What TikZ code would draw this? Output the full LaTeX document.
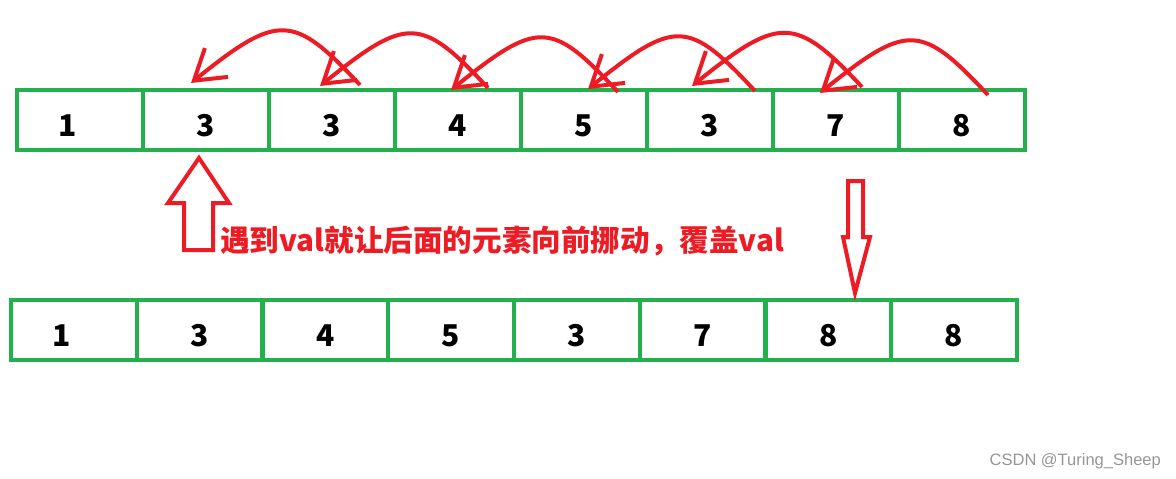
\documentclass[tikz,border=0pt]{standalone}
\usepackage{fontspec}
\newfontfamily\cjk{Noto Sans CJK SC}
\setsansfont{Liberation Sans}
\usetikzlibrary{arrows.meta}
\definecolor{paintred}{RGB}{237,28,36}
\definecolor{paintgreen}{RGB}{34,177,76}

\begin{document}
\begin{tikzpicture}[x=1pt,y=-1pt,
    cellbox/.style={draw=paintgreen,line width=4pt,minimum width=126pt,minimum height=60pt,
      inner sep=0pt,outer sep=0pt,text height=32pt,text depth=0pt,
      font=\cjk\bfseries\fontsize{30}{30}\selectfont},
    movearrow/.style={paintred,line width=4pt,-{Straight Barb[length=29pt,width=37pt]}},
    bigarrow/.style={draw=paintred,line width=4pt,line join=miter}]
  \useasboundingbox (0,0) rectangle (1176,479);
  % array before
  \foreach \v [count=\i] in {{1\hspace*{24pt}},3,3,4,5,3,7,8}
    \node[cellbox] (t\i) at (-46+126*\i,120) {\v};
  % array after
  \foreach \v [count=\i] in {{1\hspace*{24pt}},3,4,5,3,7,8,8}
    \node[cellbox] (b\i) at (-52+125.75*\i,330) {\v};
  % moving each element one place forward
  \foreach \a/\b/\sx/\sy/\tx/\ty in {3/2/28/5/-15/7, 4/3/30/2/-12/4, 5/4/34/-2/-7/0,
      6/5/45/-1/4/1, 7/6/26/3/-18/4, 8/7/26/-5/-16/-3}
    \draw[movearrow] ([xshift=\sx pt,yshift=\sy pt]t\a.north)
      .. controls +(-67,-72) and +(87,-70) .. ([xshift=\tx pt,yshift=\ty pt]t\b.north);
  % hollow arrows
  \draw[bigarrow] (184,250) -- (184,203) -- (168,203) -- (199,158) -- (229,203)
    -- (213,203) -- (213,250) -- cycle;
  \draw[bigarrow] (848,181) -- (863,181) -- (863,237) -- (870,237) -- (855,293)
    -- (843,237) -- (848,237) -- cycle;
  \node[anchor=west,inner sep=0pt,text=paintred,font=\cjk\bfseries\fontsize{29.6}{30}\selectfont]
    (note) at (220,241) {遇到val就让后面的元素向前挪动，覆盖val};
  \node[anchor=east,inner sep=0pt,text={rgb,255:red,150;green,150;blue,150},
    font=\sffamily\fontsize{16.5}{16.5}\selectfont] (mark) at (1161,461) {CSDN @Turing\_Sheep};
\end{tikzpicture}
\end{document}
